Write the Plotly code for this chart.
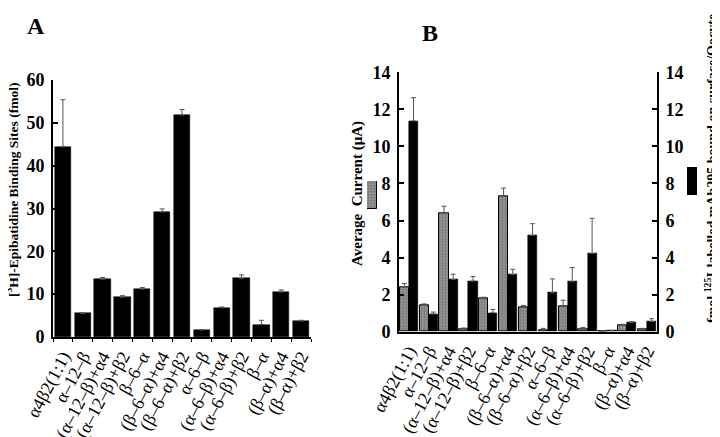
import plotly.graph_objects as go

categories = ["α4β2(1:1)", "α–12–β", "(α–12–β)+α4", "(α–12–β)+β2", "β–6–α",
              "(β–6–α)+α4", "(β–6–α)+β2", "α–6–β", "(α–6–β)+α4", "(α–6–β)+β2",
              "β–α", "(β–α)+α4", "(β–α)+β2"]

binding = [44.4, 5.5, 13.5, 9.3, 11.2, 29.2, 51.8, 1.6, 6.85, 13.7, 2.9, 10.5, 3.7]
binding_err = [11.0, 0.15, 0.4, 0.35, 0.35, 0.7, 1.3, 0.15, 0.15, 0.8, 1.0, 0.5, 0.2]

current = [2.42, 1.42, 6.41, 0.12, 1.78, 7.3, 1.31, 0.1, 1.38, 0.15, 0.03, 0.33, 0.12]
current_err = [0.18, 0.08, 0.36, 0.08, 0.08, 0.45, 0.11, 0.08, 0.32, 0.08, 0.02, 0.07, 0.06]

surface = [11.37, 0.95, 2.82, 2.73, 1.02, 3.09, 5.2, 2.1, 2.7, 4.22, 0.05, 0.49, 0.55]
surface_err = [1.26, 0.11, 0.28, 0.25, 0.18, 0.28, 0.63, 0.75, 0.76, 1.9, 0.02, 0.05, 0.15]

# The page body has an 8px margin, so the figure is sized to the remaining window area
PAD = 8
W, H = 720 - PAD, 437 - PAD
SERIF = "Liberation Serif, Times New Roman, serif"

def px_x(v):
    return (v - PAD) / W

def px_y(v):
    return 1 - (v - PAD) / H

pattern = dict(shape=".", size=3, solidity=0.85, fgcolor="black", bgcolor="white")
err_style = dict(type="data", symmetric=False, color="#555", thickness=1, width=2.5)

fig = go.Figure()

# Panel A
fig.add_trace(go.Bar(
    x=categories, y=binding, xaxis="x", yaxis="y", width=0.82,
    marker=dict(color="black", line=dict(color="black", width=0.5)),
    error_y=dict(array=binding_err, arrayminus=[0] * len(binding_err), **err_style),
    showlegend=False))

# Panel B: current (checkered, left axis)
fig.add_trace(go.Bar(
    x=categories, y=current, xaxis="x2", yaxis="y2", width=0.46, offset=-0.46,
    marker=dict(color="white", pattern=pattern, line=dict(color="black", width=1)),
    error_y=dict(array=current_err, arrayminus=[0] * len(current_err), **err_style),
    showlegend=False))

# Panel B: surface binding (black, right axis)
fig.add_trace(go.Bar(
    x=categories, y=surface, xaxis="x2", yaxis="y3", width=0.46, offset=0.0,
    marker=dict(color="black", line=dict(color="black", width=0.5)),
    error_y=dict(array=surface_err, arrayminus=[0] * len(surface_err), **err_style),
    showlegend=False))

# Legend keys (on hidden axes)
fig.add_trace(go.Bar(x=[0], y=[1], xaxis="x4", yaxis="y4", width=1,
                     marker=dict(color="white", pattern=pattern, line=dict(color="black", width=1)),
                     showlegend=False, hoverinfo="skip"))
fig.add_trace(go.Bar(x=[0], y=[1], xaxis="x5", yaxis="y5", width=1,
                     marker=dict(color="black", line=dict(color="black", width=0)),
                     showlegend=False, hoverinfo="skip"))

tickfont_bold = dict(family=SERIF, size=18, color="black", weight="bold")
catfont = dict(family=SERIF, size=18, color="black")

common_x = dict(type="category", showline=True, linecolor="black", linewidth=2,
                tickmode="array", tickvals=categories, ticktext=categories,
                tickangle=-62, tickfont=catfont, showgrid=False, zeroline=False,
                automargin=False, fixedrange=True)
common_y = dict(showline=True, linecolor="black", linewidth=2, ticks="inside", ticklen=5,
                tickwidth=2, tickcolor="black", tickfont=tickfont_bold, showgrid=False,
                zeroline=False, automargin=False, ticklabelstandoff=3)

hidden = dict(visible=False, showgrid=False, zeroline=False, fixedrange=True)

def label(text, x, y, size, angle=0):
    return dict(text=text, x=px_x(x), y=px_y(y), xref="paper", yref="paper",
                xanchor="center", yanchor="middle", showarrow=False, textangle=angle,
                font=dict(family=SERIF, size=size, color="black", weight="bold"))

fig.update_layout(
    width=W, height=H, margin=dict(l=0, r=0, t=0, b=0),
    paper_bgcolor="white", plot_bgcolor="white",
    barmode="overlay", bargap=0,
    xaxis=dict(domain=[px_x(53), px_x(311)], anchor="y", ticks="outside",
               tickson="boundaries", ticklen=3, tickcolor="black", **common_x),
    yaxis=dict(domain=[px_y(337), px_y(80)], anchor="x", range=[0, 60], dtick=10, **common_y),
    xaxis2=dict(domain=[px_x(399), px_x(657)], anchor="y2", ticks="", **common_x),
    yaxis2=dict(domain=[px_y(331.7), px_y(72.3)], anchor="x2", range=[0, 14], dtick=2,
                side="left", **common_y),
    yaxis3=dict(overlaying="y2", anchor="x2", side="right", range=[0, 14], dtick=2, **common_y),
    xaxis4=dict(domain=[px_x(367), px_x(377)], anchor="y4", range=[-0.5, 0.5], **hidden),
    yaxis4=dict(domain=[px_y(209), px_y(181)], anchor="x4", range=[0, 1], **hidden),
    xaxis5=dict(domain=[px_x(687), px_x(697)], anchor="y5", range=[-0.5, 0.5], **hidden),
    yaxis5=dict(domain=[px_y(195), px_y(167)], anchor="x5", range=[0, 1], **hidden),
    annotations=[
        label("A", 36, 26, 24),
        label("B", 430, 33, 24),
        label("[<sup>3</sup>H]-Epibatidine Binding Sites (fmol)", 12, 190, 13.5, -90),
        label("Average  Current (μA)", 357, 194, 15, -90),
        label("fmol <sup>125</sup>I-labelled mAb295 bound on surface/Oocyte", 711, 169, 14, -90),
    ],
)

fig.write_html("out.html")
